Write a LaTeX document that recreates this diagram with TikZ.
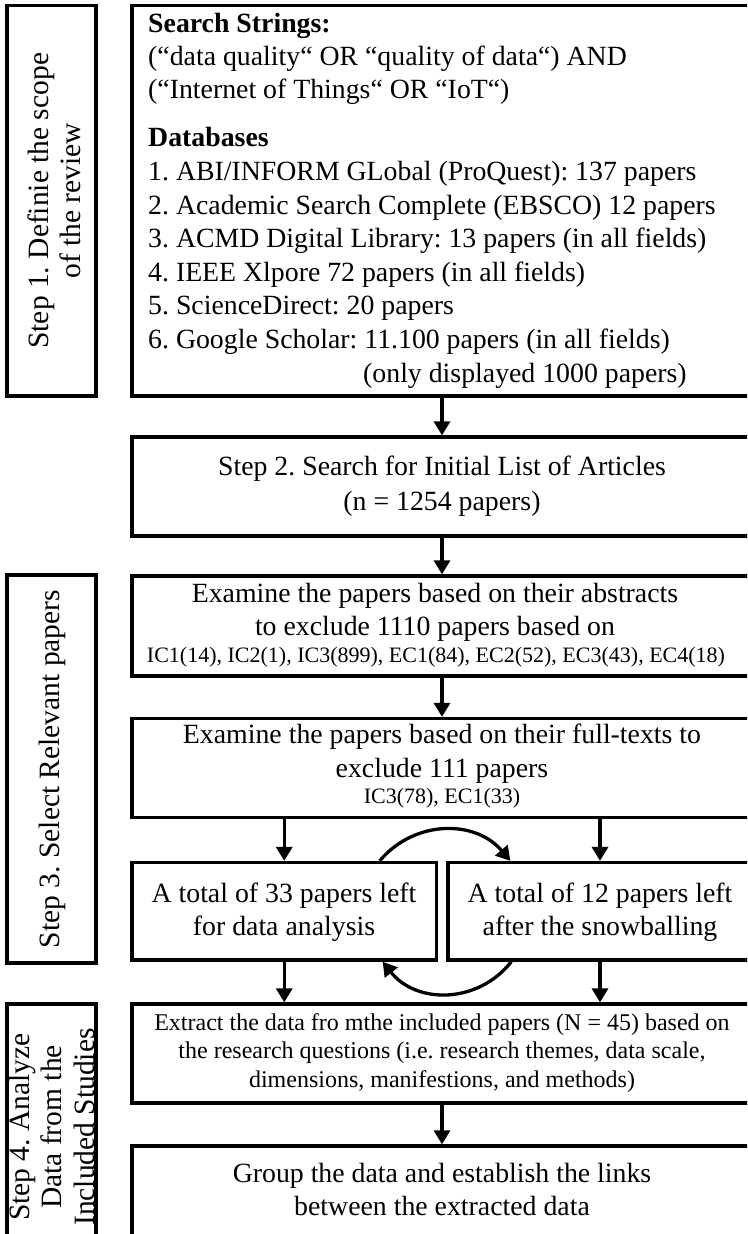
\documentclass[tikz,border=0pt]{standalone}
\usepackage{fontspec}
\setmainfont{Liberation Serif}
\usetikzlibrary{arrows.meta,calc}
\frenchspacing
\newcommand{\fmain}{\fontsize{27.8}{33.5}\selectfont}
\newcommand{\fsmall}{\fontsize{22}{26}\selectfont}
\newcommand{\fmid}{\fontsize{24}{28.5}\selectfont}
\newcommand{\fstep}{\fontsize{29.5}{32}\selectfont}
\begin{document}
\begin{tikzpicture}[x=1pt,y=-1pt,
  box/.style={draw, line width=3.3pt, rectangle, inner sep=0pt},
  ln/.style={anchor=base, inner sep=0pt, font=\fmain},
  lnl/.style={anchor=base west, inner sep=0pt, font=\fmain},
  lns/.style={anchor=base, inner sep=0pt, font=\fsmall},
  lnm/.style={anchor=base, inner sep=0pt, font=\fmid},
  arr/.style={line width=3.3pt, -{Triangle[width=16pt,length=14pt]}},
  steplabel/.style={rotate=90, align=center, font=\fstep, inner sep=0pt}]
\clip (0,0) rectangle (747,1234);
\fill[white] (0,0) rectangle (747,1234);

% step boxes
\node[box, minimum width=89pt, minimum height=390.5pt] (st1) at (51.5,200.75) {};
\node[box, minimum width=89pt, minimum height=388pt] (st3) at (51.5,769) {};
\node[box, minimum width=89pt, minimum height=234pt] (st4) at (51.5,1121) {};
\node[steplabel] (st1t) at ([xshift=3pt]st1.center) {Step 1. Definie the scope\\of the review};
\node[steplabel] (st3t) at ([xshift=1pt]st3.center) {Step 3. Select Relevant papers};
\node[steplabel, font=\fontsize{29.5}{32.5}\selectfont] (st4t) at ([yshift=-6pt]st4.center) {Step 4. Analyze\\Data from the\\Included Studies};

% main boxes
\node[box, minimum width=620pt, minimum height=390.5pt] (b1) at (442,200.75) {};
\node[box, minimum width=620pt, minimum height=99pt] (b2) at (442,486.5) {};
\node[box, minimum width=620pt, minimum height=100pt] (b3) at (442,626) {};
\node[box, minimum width=620pt, minimum height=99pt] (b4) at (442,768) {};
\node[box, minimum width=304.5pt, minimum height=97.5pt] (b5a) at (284.25,911.25) {};
\node[box, minimum width=304pt, minimum height=97.5pt] (b5b) at (600,911.25) {};
\node[box, minimum width=620pt, minimum height=99pt] (b6) at (442,1053.5) {};
\node[box, minimum width=620pt, minimum height=92pt] (b7) at (442,1192) {};

% box 1 text
\node[lnl] (t1a) at (148,32) {\textbf{Search Strings:}};
\node[lnl] (t1b) at (148,65) {(“data quality“ OR “quality of data“) AND};
\node[lnl] (t1c) at (148,98) {(“Internet of Things“ OR “IoT“)};
\node[lnl] (t1d) at (148,146) {\textbf{Databases}};
\node[lnl] (t1e) at (148,180) {1. ABI/INFORM GLobal (ProQuest): 137 papers};
\node[lnl] (t1f) at (148,214) {2. Academic Search Complete (EBSCO) 12 papers};
\node[lnl] (t1g) at (148,247) {3. ACMD Digital Library: 13 papers (in all fields)};
\node[lnl] (t1h) at (148,281) {4. IEEE Xlpore 72 papers (in all fields)};
\node[lnl] (t1i) at (148,314) {5. ScienceDirect: 20 papers};
\node[lnl] (t1j) at (148,348) {6. Google Scholar: 11.100 papers (in all fields)};
\node[lnl] (t1k) at (363,382) {(only displayed 1000 papers)};

% box 2
\node[ln] (t2a) at (442,475) {Step 2. Search for Initial List of Articles};
\node[ln] (t2b) at (442,510) {(n = 1254 papers)};

% box 3
\node[ln] (t3a) at (435,602) {Examine the papers based on their abstracts};
\node[ln] (t3b) at (435,635) {to exclude 1110 papers based on};
\node[lns] (t3c) at (436,662) {IC1(14), IC2(1), IC3(899), EC1(84), EC2(52), EC3(43), EC4(18)};

% box 4
\node[ln] (t4a) at (442,743) {Examine the papers based on their full-texts to};
\node[ln] (t4b) at (442,777) {exclude 111 papers};
\node[lns] (t4c) at (442,803) {IC3(78), EC1(33)};

% box 5
\node[ln] (t5a) at (284,902) {A total of 33 papers left};
\node[ln] (t5b) at (284,935) {for data analysis};
\node[ln] (t5c) at (600,902) {A total of 12 papers left};
\node[ln] (t5d) at (600,935) {after the snowballing};

% box 6
\node[lnm] (t6a) at (442,1030) {Extract the data fro mthe included papers (N = 45) based on};
\node[lnm] (t6b) at (442,1058.5) {the research questions (i.e. research themes, data scale,};
\node[lnm] (t6c) at (442,1087) {dimensions, manifestions, and methods)};

% box 7
\node[ln] (t7a) at (442,1182) {Group the data and establish the links};
\node[ln] (t7b) at (442,1215) {between the extracted data};

% arrows
\draw[arr] (b1) -- (b2);
\draw[arr] (b2) -- (b3);
\draw[arr] (b3) -- (b4);
\draw[arr] (b4.south -| b5a.north) -- (b5a.north);
\draw[arr] (b4.south -| b5b.north) -- (b5b.north);
\draw[arr] (b5a.south) -- (b6.north -| b5a.south);
\draw[arr] (b5b.south) -- (b6.north -| b5b.south);
\draw[arr] (b6) -- (b7);

% snowballing loop
\coordinate (ca) at ([xshift=-58.5pt]b5a.north east);
\coordinate (cb) at ([xshift=64pt]b5b.north west);
\coordinate (cc) at ([xshift=65pt]b5b.south west);
\coordinate (cd) at ([xshift=-55.5pt]b5a.south east);
\draw[arr] (ca) .. controls +(35.1,-41.4) and +(-35.1,-41.4) .. (cb);
\draw[arr] (cc) .. controls +(-33.6,42.6) and +(33.6,42.6) .. (cd);
\end{tikzpicture}
\end{document}
